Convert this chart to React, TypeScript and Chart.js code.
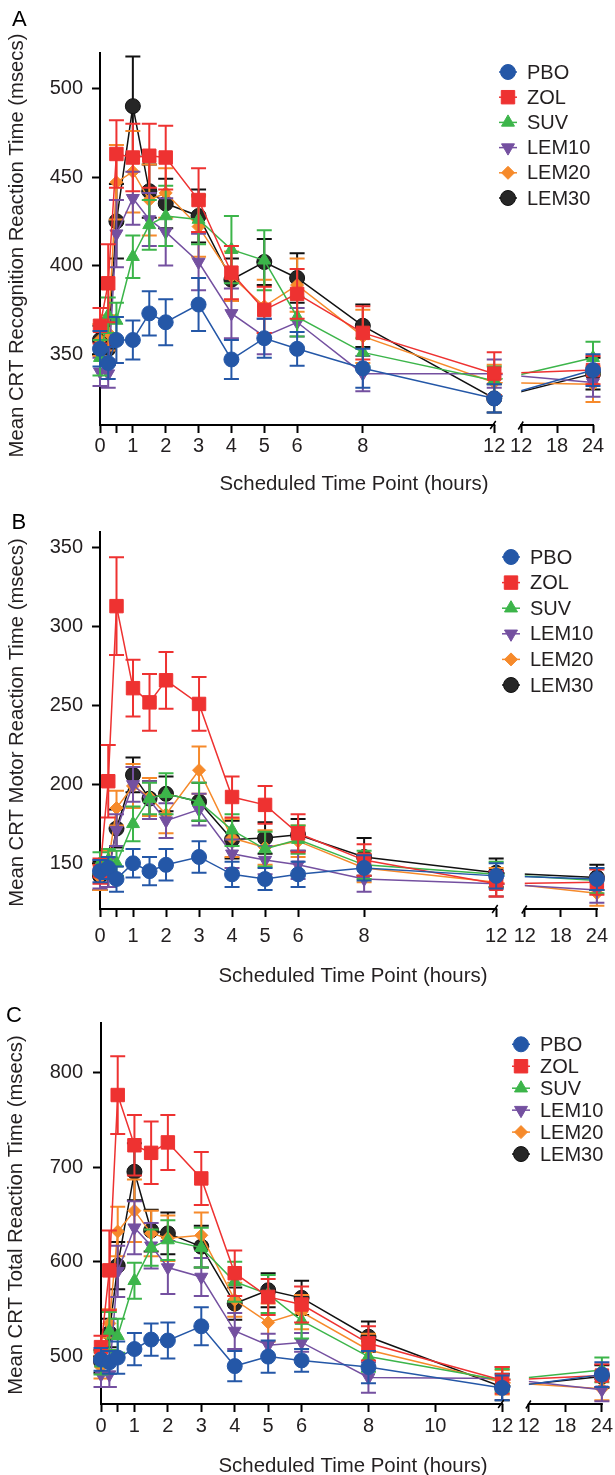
import React, { useEffect, useRef } from 'react';
import { Chart, registerables } from 'chart.js';
import { drawPoint } from 'chart.js/helpers';

Chart.register(...registerables);

const FONT = 'Liberation Sans, Arial, Helvetica, sans-serif';
const TEXT = '#231f20';

// ---------- data ----------
const HOURS = [0, 0.25, 0.5, 1, 1.5, 2, 3, 4, 5, 6, 8, 12, 24];
const SERIES = ['PBO', 'ZOL', 'SUV', 'LEM10', 'LEM20', 'LEM30'];

// Panel A: recognition reaction time
const A_PBO = [353, 345, 358, 358, 373, 368, 378, 347, 359, 353, 342, 325, 341];
const A_PBO_SE = [10, 9, 13, 11, 12.5, 13, 15, 11, 11, 9.5, 11, 8, 9];
const A_ZOL = [366, 390, 463, 461, 462, 461, 437, 396, 375, 384, 362, 339, 341];
const A_ZOL_SE = [10, 22, 19, 19, 18, 18, 18, 15, 13, 14, 15, 12, 8];
const A_SUV = [348, 372, 369, 405, 423, 428, 426, 409, 403, 371, 351, 335, 348];
const A_SUV_SE = [10, 10, 10, 12, 14, 17, 14, 19, 17, 11, 8, 8, 9];
const A_LEM10 = [340, 339, 418, 438, 426, 419, 402, 373, 360, 368, 339, 339, 334];
const A_LEM10_SE = [8, 8, 19, 15, 15, 19, 16, 14, 10, 8, 10, 8, 8];
const A_LEM20 = [358, 362, 447, 453, 437, 441, 422, 394, 377, 389, 360, 334, 333];
const A_LEM20_SE = [9, 10, 21, 23, 20, 14, 17, 14, 15, 15, 15, 10, 10];
const A_LEM30 = [358, 353, 425, 490, 442, 435, 428, 392, 402, 393, 366, 325, 339];
const A_LEM30_SE = [8, 9, 21, 28, 15, 14, 15, 12, 13, 14, 12, 8, 9];

// Panel B: motor reaction time
const B_PBO = [145, 147, 140, 150, 145, 149, 154, 143, 140, 143, 147, 142, 140];
const B_PBO_SE = [7, 7, 8, 9, 9, 10, 10, 8, 7, 8, 8, 8, 7];
const B_ZOL = [145, 202, 313, 261, 252, 266, 251, 192, 187, 169, 152, 137, 138];
const B_ZOL_SE = [8, 23, 31, 18, 18, 18, 17, 13, 12, 12, 10, 8, 8];
const B_SUV = [150, 152, 150, 175, 191, 194, 189, 171, 159, 165, 149, 143, 139];
const B_SUV_SE = [7, 7, 8, 11, 10, 13, 12, 10, 11, 9, 9, 8, 8];
const B_LEM10 = [143, 144, 171, 200, 190, 177, 184, 156, 152, 149, 140, 137, 133];
const B_LEM10_SE = [9, 9, 10, 11, 12, 11, 10, 9, 9, 9, 8, 8, 8];
const B_LEM20 = [141, 150, 185, 199, 192, 181, 209, 166, 160, 164, 147, 138, 131];
const B_LEM20_SE = [8, 8, 11, 14, 12, 12, 15, 12, 11, 10, 9, 9, 8];
const B_LEM30 = [142, 144, 172, 206, 191, 194, 189, 165, 166, 168, 154, 144, 141];
const B_LEM30_SE = [9, 9, 12, 11, 11, 11, 12, 12, 10, 10, 12, 9, 8];

// Panel C: total reaction time
const C_PBO = [497, 494, 499, 508, 518, 517, 532, 490, 500, 496, 489, 467, 481];
const C_PBO_SE = [12, 12, 17, 17, 17, 19, 20, 16, 17, 12, 17, 13, 13];
const C_ZOL = [510, 591, 776, 723, 715, 726, 688, 588, 563, 555, 514, 475, 480];
const C_ZOL_SE = [12, 42, 41, 32, 33, 29, 28, 24, 19, 19, 18, 14, 12];
const C_SUV = [493, 527, 522, 580, 615, 623, 615, 579, 566, 538, 500, 475, 486];
const C_SUV_SE = [12, 20, 18, 19, 19, 21, 21, 21, 20, 19, 16, 12, 13];
const C_LEM10 = [481, 481, 590, 636, 617, 594, 584, 527, 512, 515, 478, 477, 465];
const C_LEM10_SE = [13, 13, 27, 28, 24, 28, 20, 19, 12, 10, 16, 12, 12];
const C_LEM20 = [489, 535, 632, 654, 630, 625, 628, 560, 536, 547, 507, 473, 466];
const C_LEM20_SE = [12, 15, 26, 33, 24, 24, 24, 18, 20, 18, 17, 13, 12];
const C_LEM30 = [495, 525, 596, 695, 633, 630, 616, 556, 570, 562, 521, 468, 479];
const C_LEM30_SE = [12, 15, 25, 30, 22, 22, 22, 17, 18, 18, 16, 14, 12];

// ticks
const X_TICKS_LEFT_AB = [0, 0.5, 1, 2, 3, 4, 5, 6, 8, 12];
const X_TICKS_LEFT_C = [0, 0.5, 1, 2, 3, 4, 5, 6, 8, 10, 12];
const X_TICKS_RIGHT = [12, 18, 24];
const Y_TICKS_A = [350, 400, 450, 500];
const Y_TICKS_B = [150, 200, 250, 300, 350];
const Y_TICKS_C = [500, 600, 700, 800];

const X_TITLE = 'Scheduled Time Point (hours)';

// ---------- styles ----------
const STYLES = [
  { color: '#2457a7', fill: '#2457a7', pointStyle: 'circle', radius: 7.5, rotation: 0 },
  { color: '#ee3231', fill: '#ee3231', pointStyle: 'rect', radius: 9.5, rotation: 0 },
  { color: '#3cb54a', fill: '#3cb54a', pointStyle: 'triangle', radius: 7.5, rotation: 0 },
  { color: '#7450a0', fill: '#7450a0', pointStyle: 'triangle', radius: 7.5, rotation: 180 },
  { color: '#f68a2b', fill: '#f68a2b', pointStyle: 'rectRot', radius: 6.5, rotation: 0 },
  { color: '#111111', fill: '#262626', pointStyle: 'circle', radius: 7.5, rotation: 0 },
];

// broken axis: 0..12 full scale, then gap, then 12..24 compressed
const BREAK_AT = 12;
const RIGHT_SCALE = 0.182;
function axisPos(h: number, gap: number, rightSeg = false) {
  return h > BREAK_AT || rightSeg ? BREAK_AT + gap + (h - BREAK_AT) * RIGHT_SCALE : h;
}

const PANELS = [
  {
    key: 'A', top: 0, height: 500,
    area: { left: 100, right: 593, top: 53, bottom: 425 },
    gap: 0.822, yMin: 310, yMax: 520, yTicks: Y_TICKS_A, xTicksLeft: X_TICKS_LEFT_AB,
    yTitle: 'Mean CRT Recognition Reaction Time (msecs)',
    values: [A_PBO, A_ZOL, A_SUV, A_LEM10, A_LEM20, A_LEM30],
    errors: [A_PBO_SE, A_ZOL_SE, A_SUV_SE, A_LEM10_SE, A_LEM20_SE, A_LEM30_SE],
    legend: { x: 508, textX: 527, y: 72, dy: 25.2 },
    letter: { x: 12, y: 26 },
    xTitle: { x: 354, y: 484.5 },
    yTitle2: { x: 17, y: 245.5 },
    yTickPad: 9, xTickPad: 1,
  },
  {
    key: 'B', top: 490, height: 510,
    area: { left: 100, right: 603, top: 42, bottom: 419 },
    gap: 0.866, yMin: 121, yMax: 360, yTicks: Y_TICKS_B, xTicksLeft: X_TICKS_LEFT_AB,
    yTitle: 'Mean CRT Motor Reaction Time (msecs)',
    values: [B_PBO, B_ZOL, B_SUV, B_LEM10, B_LEM20, B_LEM30],
    errors: [B_PBO_SE, B_ZOL_SE, B_SUV_SE, B_LEM10_SE, B_LEM20_SE, B_LEM30_SE],
    legend: { x: 511, textX: 530, y: 67, dy: 25.6 },
    letter: { x: 11.5, y: 39 },
    xTitle: { x: 353, y: 486 },
    yTitle2: { x: 17, y: 232.5 },
    yTickPad: 9, xTickPad: 7,
  },
  {
    key: 'C', top: 1000, height: 475,
    area: { left: 101, right: 602, top: 23, bottom: 404 },
    gap: 0.798, yMin: 450, yMax: 852, yTicks: Y_TICKS_C, xTicksLeft: X_TICKS_LEFT_C,
    yTitle: 'Mean CRT Total Reaction Time (msecs)',
    values: [C_PBO, C_ZOL, C_SUV, C_LEM10, C_LEM20, C_LEM30],
    errors: [C_PBO_SE, C_ZOL_SE, C_SUV_SE, C_LEM10_SE, C_LEM20_SE, C_LEM30_SE],
    legend: { x: 521, textX: 540, y: 44.3, dy: 21.95 },
    letter: { x: 6, y: 21.5 },
    xTitle: { x: 353, y: 466 },
    yTitle2: { x: 16.5, y: 215 },
    yTickPad: 10, xTickPad: 2,
  },
];

const CAP = 7.5;

function makePlugin(p: any) {
  return {
    id: 'broken' + p.key,
    beforeDatasetDraw(chart: any, args: any) {
      const ds = chart.data.datasets[args.index];
      const ys = chart.scales.y;
      const ctx = chart.ctx;
      ctx.save();
      ctx.strokeStyle = ds.borderColor;
      ctx.lineWidth = 2;
      args.meta.data.forEach((pt: any, i: number) => {
        const v = ds.data[i].y;
        const e = ds.errors[i];
        const yt = ys.getPixelForValue(v + e);
        const yb = ys.getPixelForValue(v - e);
        ctx.beginPath();
        ctx.moveTo(pt.x, yt);
        ctx.lineTo(pt.x, yb);
        ctx.moveTo(pt.x - CAP, yt);
        ctx.lineTo(pt.x + CAP, yt);
        ctx.moveTo(pt.x - CAP, yb);
        ctx.lineTo(pt.x + CAP, yb);
        ctx.stroke();
      });
      ctx.restore();
    },
    afterDatasetsDraw(chart: any) {
      const ctx = chart.ctx;
      const xs = chart.scales.x;
      const a = chart.chartArea;
      const x0 = xs.getPixelForValue(axisPos(12, p.gap)) + 8.5;
      const x1 = xs.getPixelForValue(axisPos(12, p.gap, true));
      ctx.save();
      ctx.fillStyle = '#ffffff';
      ctx.fillRect(x0, a.top - 30, x1 - x0, a.bottom - a.top + 30);
      ctx.restore();
    },
    afterDraw(chart: any) {
      const ctx = chart.ctx;
      const xs = chart.scales.x;
      const a = chart.chartArea;
      const y = Math.round(a.bottom);
      const x12 = xs.getPixelForValue(axisPos(12, p.gap));
      const xR = xs.getPixelForValue(axisPos(12, p.gap, true));
      const x24 = xs.getPixelForValue(axisPos(24, p.gap));
      ctx.save();
      ctx.strokeStyle = '#000';
      ctx.lineWidth = 2;
      ctx.beginPath();
      ctx.moveTo(a.left - 1, y);
      ctx.lineTo(x12 + 1, y);
      ctx.moveTo(xR - 1, y);
      ctx.lineTo(x24 + 1, y);
      ctx.stroke();
      ctx.lineWidth = 1.5;
      ctx.beginPath();
      ctx.moveTo(x12 - 4, y + 4);
      ctx.lineTo(x12 + 1.5, y - 4);
      ctx.moveTo(xR - 3, y + 4.5);
      ctx.lineTo(xR + 2, y - 3.5);
      ctx.stroke();

      // axis titles
      ctx.fillStyle = TEXT;
      ctx.font = `20.4px ${FONT}`;
      ctx.textAlign = 'center';
      ctx.textBaseline = 'middle';
      ctx.fillText(X_TITLE, p.xTitle.x, p.xTitle.y);
      ctx.save();
      ctx.translate(p.yTitle2.x, p.yTitle2.y);
      ctx.rotate(-Math.PI / 2);
      ctx.font = `20.3px ${FONT}`;
      ctx.fillText(p.yTitle, 0, 0);
      ctx.restore();

      // legend
      const L = p.legend;
      SERIES.forEach((name, s) => {
        const st = STYLES[s];
        const cy = L.y + s * L.dy;
        ctx.strokeStyle = st.color;
        ctx.lineWidth = 1.5;
        ctx.beginPath();
        ctx.moveTo(L.x - 9, cy);
        ctx.lineTo(L.x + 9, cy);
        ctx.stroke();
        ctx.fillStyle = st.fill;
        ctx.strokeStyle = st.color;
        ctx.lineWidth = 1;
        drawPoint(ctx, { pointStyle: st.pointStyle, radius: st.radius, rotation: st.rotation, borderWidth: 1 } as any, L.x, cy);
        ctx.fillStyle = TEXT;
        ctx.font = `20px ${FONT}`;
        ctx.textAlign = 'left';
        ctx.textBaseline = 'middle';
        ctx.fillText(name, L.textX, cy + 1);
      });

      // panel letter
      ctx.fillStyle = '#000';
      ctx.font = `22px ${FONT}`;
      ctx.textAlign = 'left';
      ctx.textBaseline = 'alphabetic';
      ctx.fillText(p.key, p.letter.x, p.letter.y);
      ctx.restore();
    },
  };
}

function makeConfig(p: any) {
  const datasets = SERIES.map((name, s) => ({
    label: name,
    data: HOURS.map((h, i) => ({ x: axisPos(h, p.gap), y: p.values[s][i] })),
    errors: p.errors[s],
    borderColor: STYLES[s].color,
    backgroundColor: STYLES[s].fill,
    borderWidth: 1.5,
    pointStyle: STYLES[s].pointStyle,
    pointRadius: STYLES[s].radius,
    pointHoverRadius: STYLES[s].radius,
    pointRotation: STYLES[s].rotation,
    pointBackgroundColor: STYLES[s].fill,
    pointBorderColor: STYLES[s].color,
    pointBorderWidth: 1,
    tension: 0,
    clip: false,
  }));
  const xTickValues = [
    ...p.xTicksLeft.map((h: number) => axisPos(h, p.gap)),
    ...X_TICKS_RIGHT.map((h) => axisPos(h, p.gap, true)),
  ];
  const xTickLabels = [...p.xTicksLeft, ...X_TICKS_RIGHT].map((h: number) => (h === 0.5 ? '' : String(h)));
  return {
    type: 'line',
    data: { datasets },
    options: {
      animation: false,
      responsive: false,
      maintainAspectRatio: false,
      devicePixelRatio: 1,
      events: [],
      layout: { padding: { left: 0, top: p.area.top, right: 615 - p.area.right, bottom: 0 } },
      plugins: { legend: { display: false }, tooltip: { enabled: false } },
      scales: {
        x: {
          type: 'linear',
          min: 0,
          max: axisPos(24, p.gap),
          afterFit: (s: any) => { s.height = p.height - p.area.bottom; },
          afterBuildTicks: (s: any) => { s.ticks = xTickValues.map((v: number) => ({ value: v })); },
          ticks: {
            autoSkip: false, maxRotation: 0, minRotation: 0, padding: p.xTickPad,
            color: TEXT, font: { family: FONT, size: 20 },
            callback: (_v: any, i: number) => xTickLabels[i],
          },
          grid: { display: true, drawOnChartArea: false, drawTicks: true, tickLength: 8, tickWidth: 2, tickColor: '#000' },
          border: { display: false },
          title: { display: false },
        },
        y: {
          type: 'linear',
          min: p.yMin,
          max: p.yMax,
          afterFit: (s: any) => { s.width = p.area.left; },
          afterBuildTicks: (s: any) => { s.ticks = p.yTicks.map((v: number) => ({ value: v })); },
          ticks: { padding: p.yTickPad, color: TEXT, font: { family: FONT, size: 20 } },
          grid: { display: true, drawOnChartArea: false, drawTicks: true, tickLength: 8, tickWidth: 2, tickColor: '#000' },
          border: { display: true, width: 2, color: '#000' },
          title: { display: false },
        },
      },
    },
    plugins: [makePlugin(p)],
  };
}

function Panel({ p }: { p: any }) {
  const ref = useRef<HTMLCanvasElement | null>(null);
  useEffect(() => {
    if (!ref.current) return;
    const chart = new Chart(ref.current, makeConfig(p) as any);
    return () => chart.destroy();
  }, [p]);
  return (
    <canvas
      ref={ref}
      width={615}
      height={p.height}
      style={{ position: 'absolute', left: 0, top: p.top, width: 615, height: p.height }}
    />
  );
}

export default function App() {
  return (
    <div style={{ position: 'fixed', left: 0, top: 0, width: 615, height: 1475, overflow: 'hidden', background: '#fff' }}>
      {PANELS.map((p) => (
        <Panel key={p.key} p={p} />
      ))}
    </div>
  );
}
